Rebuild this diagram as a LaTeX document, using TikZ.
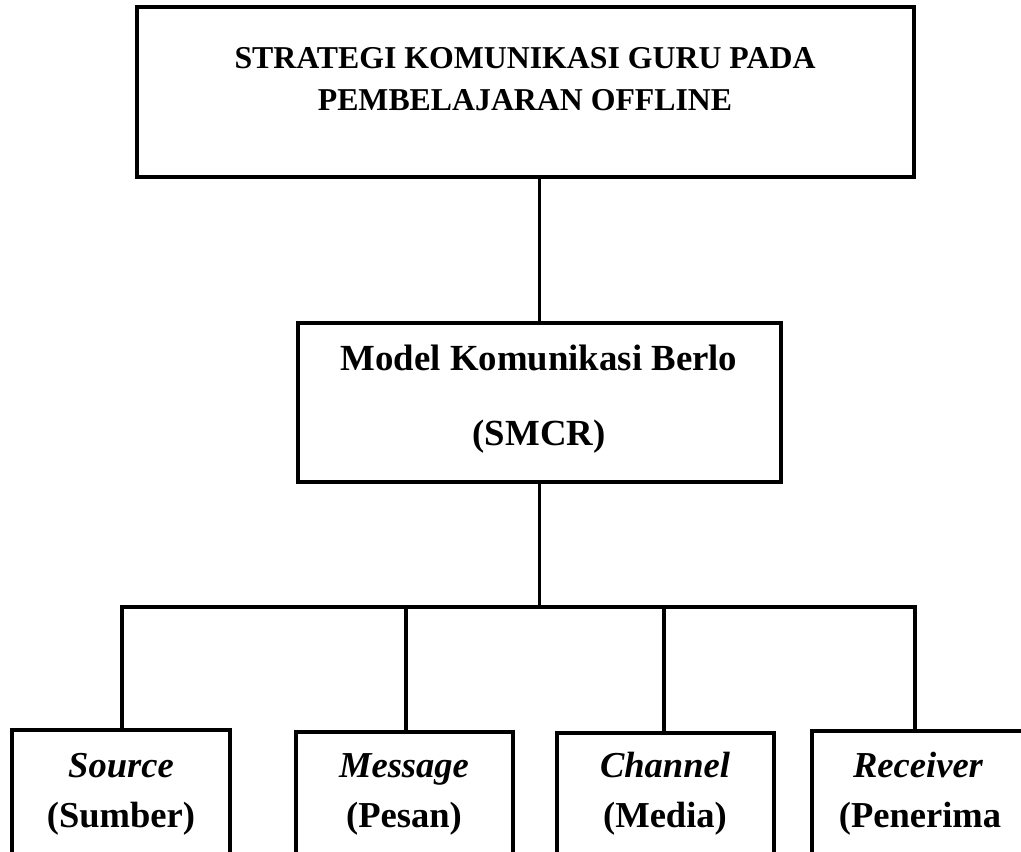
\documentclass[tikz,border=0pt]{standalone}
\usepackage{fontspec}
\setmainfont{Liberation Serif}
\begin{document}
\begin{tikzpicture}[x=0.75pt,y=-0.75pt,line width=2.3pt,
  boxshape/.style={draw,rectangle,inner sep=0pt,outer sep=0pt,anchor=north west},
  toptext/.style={font=\fontsize{23.85pt}{28pt}\selectfont\bfseries,anchor=base,inner sep=0pt},
  midtext/.style={font=\fontsize{27.6pt}{32pt}\selectfont\bfseries,anchor=base,inner sep=0pt},
  bottext/.style={font=\fontsize{27.4pt}{32pt}\selectfont\bfseries,anchor=base,inner sep=0pt},
  botital/.style={font=\fontsize{27.4pt}{32pt}\selectfont\bfseries\itshape,anchor=base,inner sep=0pt}]
\useasboundingbox (0,0) rectangle (1021,851);
\clip (0,0) rectangle (1021,851);
% boxes
\node[boxshape,minimum width=582.75pt,minimum height=127.5pt] (top) at (137,7) {};
\node[boxshape,minimum width=362.25pt,minimum height=119.25pt] (mid) at (298,323) {};
\node[boxshape,minimum width=163.5pt,minimum height=150pt] (b1) at (12,730) {};
\node[boxshape,minimum width=162.75pt,minimum height=150pt] (b2) at (296,732) {};
\node[boxshape,minimum width=162.75pt,minimum height=150pt] (b3) at (557,733) {};
\node[boxshape,minimum width=171pt,minimum height=150pt] (b4) at (812,731) {};
% texts
\node[toptext] (t1) at (525,68) {STRATEGI KOMUNIKASI GURU PADA};
\node[toptext] (t2) at (525,110) {PEMBELAJARAN OFFLINE};
\node[midtext] (m1) at (539,370) {Model Komunikasi Berlo};
\node[midtext] (m2) at (539,445) {(SMCR)};
\node[botital] (s1) at (121,777) {Source};
\node[bottext] (s2) at (121,827) {(Sumber)};
\node[botital] (p1) at (404,777) {Message};
\node[bottext] (p2) at (404,827) {(Pesan)};
\node[botital] (c1) at (665,777) {Channel};
\node[bottext] (c2) at (665,827) {(Media)};
\node[botital] (r1) at (918,777) {Receiver};
\node[bottext] (r2) at (920,827) {(Penerima};
% connectors
\coordinate (d1) at (122,607);
\coordinate (d2) at (406,607);
\coordinate (d3) at (664,607);
\coordinate (d4) at (915,607);
\draw (top.south -| mid.north) -- (mid.north);
\draw (mid.south) -- (mid.south |- d1);
\draw (d1 |- b1.north) -- (d1) -- (d4) -- (d4 |- b4.north);
\draw (d2) -- (d2 |- b2.north);
\draw (d3) -- (d3 |- b3.north);
\end{tikzpicture}
\end{document}
